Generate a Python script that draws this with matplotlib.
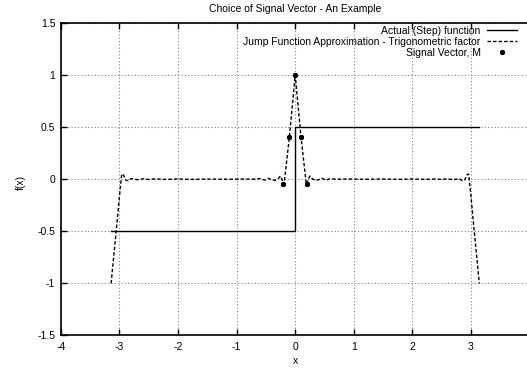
import numpy as np
import matplotlib
matplotlib.use("Agg")
import matplotlib.pyplot as plt

plt.rcParams['font.family'] = ['Liberation Sans', 'DejaVu Sans']

# Actual step function: -1/2 on (-pi, 0), +1/2 on (0, pi)
step_x = [-np.pi, 0.0, 0.0, np.pi]
step_y = [-0.5, -0.5, 0.5, 0.5]

# Jump function approximation (trigonometric concentration factor)
jump_x = [-3.1416, -3.10, -3.05, -3.00, -2.96, -2.93, -2.89, -2.85, -2.80, -2.75,
          -2.70, -2.60, -2.50, -2.40, -2.20, -2.00, -1.80, -1.50, -1.20, -0.90,
          -0.70, -0.60, -0.52, -0.46, -0.40, -0.35, -0.30, -0.25, -0.19, -0.10,
          0.00,
          0.10, 0.19, 0.25, 0.30, 0.35, 0.40, 0.46, 0.52, 0.60, 0.70,
          0.90, 1.20, 1.50, 1.80, 2.00, 2.20, 2.40, 2.50, 2.60, 2.70,
          2.75, 2.80, 2.85, 2.89, 2.93, 2.96, 3.00, 3.05, 3.10, 3.1416]
jump_y = [-1.00, -0.76, -0.47, -0.17, 0.05, 0.04, -0.01, -0.015, 0.005, 0.0,
          -0.005, 0.003, -0.003, 0.002, -0.002, 0.002, -0.002, 0.001, -0.001, 0.001,
          0.0, 0.005, -0.01, 0.008, -0.005, -0.012, 0.0, 0.03, -0.05, 0.40,
          1.00,
          0.40, -0.05, 0.03, 0.0, -0.012, -0.005, 0.008, -0.01, 0.005, 0.0,
          0.001, -0.001, 0.001, -0.002, 0.002, -0.002, 0.002, -0.003, 0.003, -0.005,
          0.0, 0.005, -0.015, -0.01, 0.04, 0.05, -0.17, -0.47, -0.76, -1.00]

# Signal vector M sampled around the jump
signal_x = [-0.2, -0.1, 0.0, 0.1, 0.2]
signal_y = [-0.05, 0.40, 1.00, 0.40, -0.05]

x_ticks = [-4, -3, -2, -1, 0, 1, 2, 3]
y_ticks = [-1.5, -1, -0.5, 0, 0.5, 1, 1.5]
y_tick_labels = ['-1.5', '-1', '-0.5', '0', '0.5', '1', '1.5']

FS = 7.5
W, H = 527, 371
fig = plt.figure(figsize=(W / 100, H / 100), dpi=100)
ax = fig.add_axes([60.8 / W, (H - 335.4) / H, (529.6 - 60.8) / W, (335.4 - 22.9) / H])

ax.plot(step_x, step_y, color='black', lw=1.0, label='Actual (Step) function')
ax.plot(jump_x, jump_y, color='black', lw=1.0, dashes=(2.5, 1.5),
        label='Jump Function Approximation - Trigonometric factor')
ax.plot(signal_x, signal_y, linestyle='none', marker=(8, 2, 0), markersize=3.6,
        markeredgewidth=1.1, color='black', label='Signal Vector, M')

ax.set_xlim(-4, 4)
ax.set_ylim(-1.5, 1.5)
ax.set_xticks(x_ticks)
ax.set_xticklabels([str(t) for t in x_ticks])
ax.set_yticks(y_ticks)
ax.set_yticklabels(y_tick_labels)
ax.tick_params(direction='in', length=4, width=1, top=True, right=False,
               labelsize=FS, pad=5)
ax.tick_params(axis='y', pad=4)
ax.grid(True, color='#808080', linestyle=(0, (1, 2)), lw=0.8)
for s in ax.spines.values():
    s.set_linewidth(1.2)

fig.text(295.5 / W, 1 - 9.5 / H, 'Choice of Signal Vector - An Example',
         ha='center', va='center', fontsize=FS)
fig.text(295.5 / W, 1 - 361 / H, 'x', ha='center', va='center', fontsize=FS)
fig.text(21 / W, 1 - 182 / H, 'f(x)', ha='center', va='center', fontsize=FS,
         rotation=90)

ax.legend(loc='upper right', bbox_to_anchor=(517 / W, 1 - 25.5 / H),
          bbox_transform=fig.transFigure, frameon=False, markerfirst=False,
          fontsize=FS, handlelength=2.9, handletextpad=0.6, labelspacing=0.1,
          borderpad=0, borderaxespad=0)

fig.savefig('out.png', dpi=100)
